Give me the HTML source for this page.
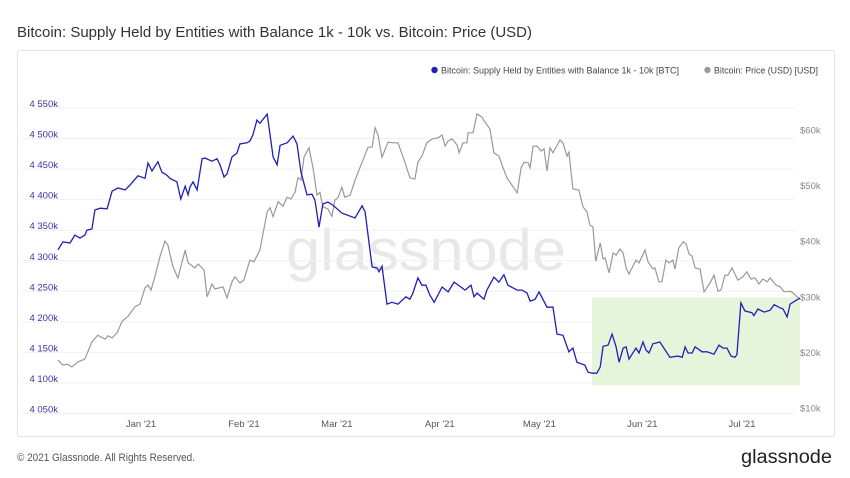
<!DOCTYPE html>
<html><head><meta charset="utf-8"><style>
body{margin:0;background:#fff;font-family:"Liberation Sans",sans-serif;}
#wrap{position:relative;width:850px;height:478px;overflow:hidden;}
</style></head><body>
<div id="wrap">
<svg id="svg" width="850" height="478" xmlns="http://www.w3.org/2000/svg">
<text x="17" y="37" font-size="15" textLength="515" lengthAdjust="spacingAndGlyphs" fill="#333">Bitcoin: Supply Held by Entities with Balance 1k - 10k vs. Bitcoin: Price (USD)</text>
<rect x="17.5" y="50.5" width="817" height="386" fill="none" stroke="#e2e2e2" rx="2"/>
<text x="426" y="270" font-size="58" fill="#e8e8e8" text-anchor="middle" textLength="280" lengthAdjust="spacingAndGlyphs">glassnode</text>
<g id="grid"></g><g id="hl"></g><g id="lines"></g><g id="axes"></g>
<g>
<g><circle cx="434.5" cy="70" r="3.2" fill="#1f1fb8"/><text x="441" y="73.5" font-size="9.5" textLength="238" lengthAdjust="spacingAndGlyphs" fill="#444">Bitcoin: Supply Held by Entities with Balance 1k - 10k [BTC]</text></g>
<g><circle cx="707.5" cy="70" r="3.2" fill="#999"/><text x="714" y="73.5" font-size="9.5" textLength="104" lengthAdjust="spacingAndGlyphs" fill="#444">Bitcoin: Price (USD) [USD]</text></g>
</g>
<text x="17" y="461" font-size="11" fill="#555" textLength="178" lengthAdjust="spacingAndGlyphs">© 2021 Glassnode. All Rights Reserved.</text>
<text x="741" y="463" font-size="19" fill="#222" textLength="91" lengthAdjust="spacingAndGlyphs">glassnode</text>
</svg></div>
<script>
const monthLabels=["Jan '21","Feb '21","Mar '21","Apr '21","May '21","Jun '21","Jul '21"];
const monthDays=[25,56,84,115,145,176,206];
const leftTicks=[4550,4500,4450,4400,4350,4300,4250,4200,4150,4100,4050];
const leftTickLabels=["4 550k","4 500k","4 450k","4 400k","4 350k","4 300k","4 250k","4 200k","4 150k","4 100k","4 050k"];
const rightTicks=[60,50,40,30,20,10];
const rightTickLabels=["$60k","$50k","$40k","$30k","$20k","$10k"];
const supplyDays=[0,1.5,3.6,5.1,6.6,8.1,8.7,10.2,11.1,12.7,14.8,16.3,18.1,20.2,21.7,24.1,26.2,27.1,28.3,30.1,31.3,32.8,33.7,35.8,37.0,38.3,39.2,39.8,40.7,41.9,43.4,44.3,46.4,47.9,48.8,50.0,50.9,52.4,53.9,54.8,56.9,57.8,58.7,59.9,60.8,63.0,64.8,66.0,66.9,69.0,70.8,72.0,73.2,75.0,76.5,77.4,78.6,79.8,81.3,82.8,85.5,89.5,91.6,92.5,94.6,96.1,96.7,97.6,99.1,100.6,102.4,104.8,106.0,106.9,108.4,109.6,110.8,112.0,113.3,115.7,117.5,119.3,122.6,124.4,125.3,126.2,128.3,129.2,131.3,132.8,134.3,135.5,138.3,139.8,141.3,142.2,143.7,144.9,147.3,149.1,150.3,152.1,153.9,155.1,156.3,158.7,159.6,160.8,162.3,163.3,164.2,165.7,166.9,168.1,169.0,170.2,171.1,172.0,174.1,175.0,176.2,177.1,178.0,179.2,181.3,184.3,186.7,188.0,188.9,189.8,191.0,191.9,194.0,195.5,197.6,199.1,200.3,201.5,202.7,203.9,204.5,205.7,206.9,209.0,209.6,210.8,212.7,214.5,215.7,217.5,218.4,219.6,220.5,222.0,223.5];
const supplyValues=[4318,4331,4329,4342,4337,4342,4350,4352,4383,4386,4385,4414,4419,4416,4424,4439,4435,4460,4447,4462,4445,4440,4435,4429,4401,4422,4408,4421,4429,4416,4467,4468,4463,4467,4457,4437,4442,4470,4476,4491,4493,4496,4506,4530,4525,4540,4470,4457,4489,4493,4504,4491,4445,4408,4409,4399,4355,4393,4396,4391,4378,4370,4390,4380,4290,4288,4282,4291,4229,4232,4229,4241,4237,4247,4272,4260,4260,4244,4232,4257,4249,4265,4252,4260,4241,4247,4237,4252,4273,4265,4277,4260,4252,4252,4247,4234,4237,4249,4224,4224,4180,4178,4151,4157,4134,4129,4118,4116,4116,4126,4160,4162,4180,4159,4134,4157,4159,4139,4157,4149,4167,4154,4149,4164,4167,4142,4144,4142,4159,4149,4149,4159,4151,4151,4147,4162,4157,4157,4144,4142,4146,4231,4218,4215,4210,4221,4216,4219,4228,4223,4221,4208,4229,4234,4239];
const priceDays=[0,1.5,2.7,4.2,6.0,8.1,10.2,12.0,14.2,15.1,16.3,17.8,19.3,21.1,23.2,24.7,26.2,27.1,28.0,29.2,30.7,32.2,33.1,34.6,36.1,38.3,39.2,41.3,42.2,44.0,44.9,46.4,47.3,49.7,50.9,52.4,53.3,54.8,56.0,57.8,59.0,60.8,63.0,63.9,64.8,66.3,67.8,69.0,70.2,71.4,72.3,73.2,74.1,75.6,76.8,78.0,78.9,79.8,81.3,82.5,83.4,84.3,85.5,86.4,88.0,89.5,91.6,93.4,94.6,95.5,96.4,97.6,99.4,100.9,102.4,104.5,106.0,107.5,108.4,109.6,111.1,112.7,114.5,115.7,116.6,117.5,118.7,120.2,120.8,122.0,123.2,123.5,125.0,126.2,127.7,128.6,130.1,131.3,132.8,134.0,135.2,138.3,139.5,140.4,141.6,142.2,143.1,144.3,145.5,146.4,147.3,148.2,149.1,151.2,152.1,153.3,153.9,155.1,156.9,158.1,159.3,160.2,161.1,162.0,163.3,164.2,164.8,166.0,167.2,168.1,169.3,170.2,171.1,172.0,174.1,175.0,176.8,177.7,179.2,179.8,181.0,181.9,183.1,184.0,185.2,185.8,187.0,188.3,189.2,190.1,191.0,191.9,193.4,194.6,196.4,197.6,198.8,199.7,200.9,201.8,203.0,204.8,206.3,207.5,208.7,209.9,211.1,212.3,213.6,214.5,216.3,217.5,218.7,220.5,221.4,222.6,223.5];
const priceValues=[18.6,17.7,17.9,17.4,18.3,18.8,21.9,23.1,22.4,23.0,22.6,23.5,25.6,26.5,28.2,28.7,31.6,32.1,31.2,33.6,37.2,40.0,39.3,35.4,33.4,38.4,36.1,35.2,35.9,34.8,30.0,32.3,31.4,31.8,29.8,32.7,33.6,32.5,33.0,36.6,36.3,38.4,45.3,46.0,44.4,47.1,46.3,47.9,47.6,48.8,51.4,51.0,55.1,56.8,53.2,48.3,48.8,46.2,45.8,44.5,47.4,47.8,49.7,47.9,48.3,51.0,54.2,56.9,56.9,60.4,59.1,55.1,57.8,57.7,57.7,54.2,51.4,51.2,54.2,55.3,57.7,58.4,58.6,59.1,57.1,58.0,58.4,57.3,55.9,57.7,57.7,59.5,59.5,62.9,62.3,61.4,60.2,55.9,55.3,53.3,51.4,48.7,53.2,54.2,54.1,53.2,57.1,57.1,56.2,56.6,52.6,56.8,55.9,58.2,57.7,55.3,56.0,49.4,49.2,46.2,45.3,42.9,42.6,36.4,39.7,36.8,37.0,34.3,37.9,37.5,38.6,37.9,35.2,34.1,36.6,36.1,38.4,36.3,35.0,35.2,32.7,32.7,36.6,36.1,36.6,35.0,38.8,39.9,39.5,37.7,37.3,35.2,35.0,30.9,32.5,33.9,31.0,31.2,33.9,33.9,35.2,33.0,33.6,34.5,33.2,33.4,32.3,33.2,32.7,33.4,32.1,31.8,30.9,31.0,30.7,30.0,29.6];
const highlightStartDay=160.8, highlightEndDay=223.5, highlightTop=4240, highlightBottom=4096;

const NS="http://www.w3.org/2000/svg";
function xS(d){return 58+d*3.32;}
function yL(v){return 108+(4550-v)/50*30.55;}
function yR(p){return 130+(60-p)*5.56;}
function mk(tag,attrs,parent){const e=document.createElementNS(NS,tag);for(const k in attrs)e.setAttribute(k,attrs[k]);parent.appendChild(e);return e;}
const grid=document.getElementById('grid'),axes=document.getElementById('axes'),lines=document.getElementById('lines'),hl=document.getElementById('hl');
leftTicks.forEach((v,i)=>{
 const g=mk('line',{x1:22,x2:795,y1:yL(v),y2:yL(v),stroke:'#f1f1f1'},grid);
 
 
 const t=mk('text',{x:58,y:yL(v)-1,'font-size':9.5,fill:'#3535a8','text-anchor':'end'},axes);
 t.textContent=leftTickLabels[i];
 
 
});
rightTicks.forEach((p,i)=>{
 const t=mk('text',{x:800,y:yR(p)+3.5,'font-size':9.5,fill:'#888'},axes);
 t.textContent=rightTickLabels[i];
 
 
});
monthDays.forEach((d,i)=>{
 const t=mk('text',{x:xS(d),y:427,'font-size':9.5,fill:'#555','text-anchor':'middle'},axes);
 t.textContent=monthLabels[i];
 
 
});
const r=mk('rect',{x:xS(highlightStartDay),y:yL(highlightTop),width:xS(highlightEndDay)-xS(highlightStartDay),height:yL(highlightBottom)-yL(highlightTop),fill:'#e6f4dc'},hl);


const pp=mk('polyline',{points:priceDays.map((d,i)=>xS(d).toFixed(1)+','+yR(priceValues[i]).toFixed(1)).join(' '),fill:'none',stroke:'#999','stroke-width':1.2},lines);


const sp=mk('polyline',{points:supplyDays.map((d,i)=>xS(d).toFixed(1)+','+yL(supplyValues[i]).toFixed(1)).join(' '),fill:'none',stroke:'#2020b5','stroke-width':1.3},lines);


</script>
</body></html>
